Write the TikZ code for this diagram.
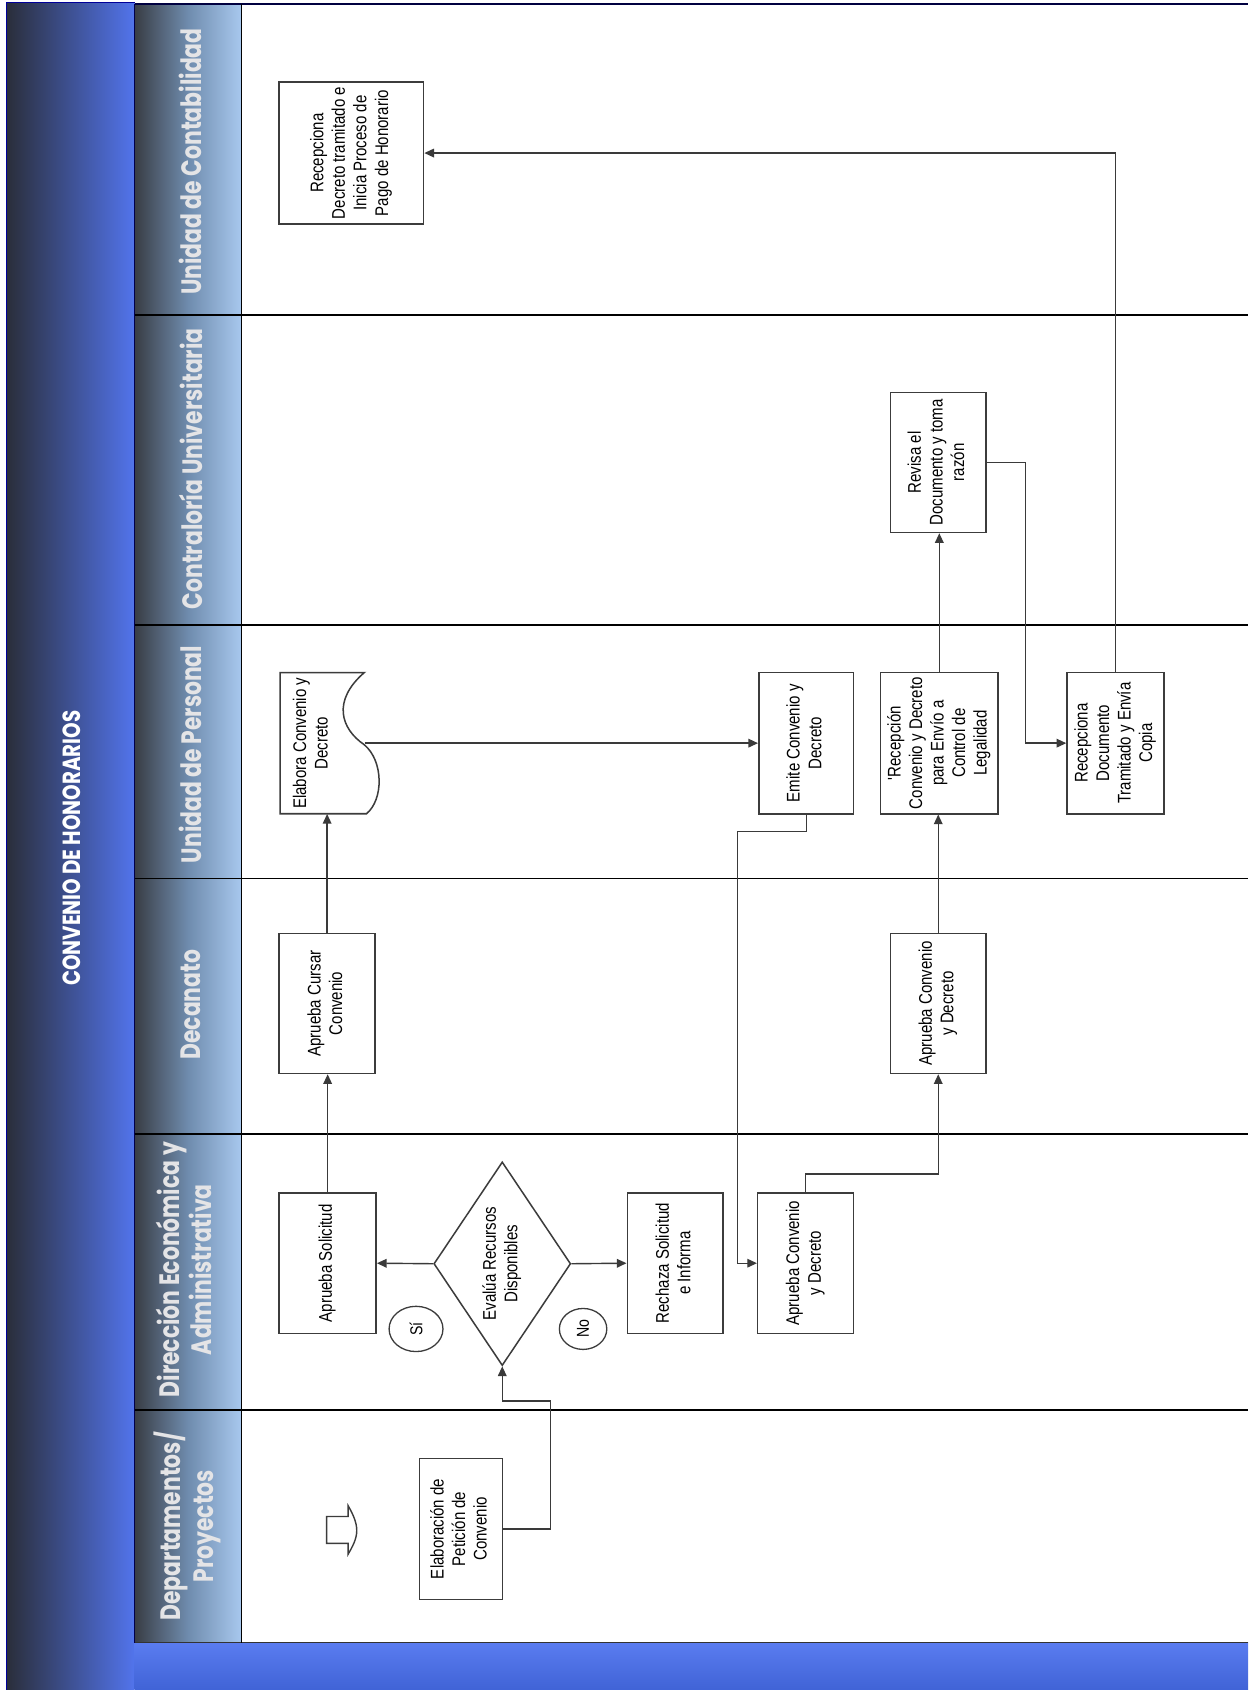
\documentclass[tikz,border=0pt]{standalone}
\usepackage{fontspec}
\usetikzlibrary{arrows.meta,shapes.geometric,calc}
\setmainfont{Liberation Sans}
\newfontfamily\boxfont[FakeStretch=0.82]{Liberation Sans}
\newfontfamily\hdrfont[FakeStretch=0.78]{Poppins}
\newfontfamily\titlefont[FakeStretch=0.80]{Poppins}
\definecolor{bandL}{HTML}{2A2E3A}
\definecolor{bandR}{HTML}{5274EC}
\definecolor{hdrL}{HTML}{393D45}
\definecolor{hdrM}{HTML}{6F8CAE}
\definecolor{hdrR}{HTML}{A8C8EE}
\definecolor{barT}{HTML}{5A7CF0}
\definecolor{barB}{HTML}{4063D6}
\definecolor{hdrtext}{HTML}{E4E4E6}
\definecolor{boxline}{HTML}{3C3C3C}
\definecolor{connc}{HTML}{3A3A3A}
\newcommand{\rtext}[1]{\rotatebox{90}{\begin{tabular}{@{}c@{}}#1\end{tabular}}}
\tikzset{
  proc/.style={draw=boxline, line width=1.4pt, fill=white, inner sep=0pt,
    font=\boxfont\fontsize{17}{20}\selectfont},
  conn/.style={draw=connc, line width=1.3pt, -{Triangle[length=9pt,width=8pt]}},
  laneline/.style={draw=black, line width=1.5pt},
  hdr/.style={text=hdrtext, inner sep=0pt, font=\hdrfont\bfseries\fontsize{26}{30}\selectfont},
  smallov/.style={draw=boxline, line width=1.2pt, ellipse, inner sep=0pt,
    font=\boxfont\fontsize{16}{18}\selectfont}
}
\begin{document}
\begin{tikzpicture}[x=1pt,y=-1pt]
\useasboundingbox (0,0) rectangle (1158,1568);
\fill[white] (0,0) rectangle (1158,1568);
% left title band
\shade[left color=bandL, right color=bandR] (6,2) rectangle (125,1568);
\draw[draw=blue!60!black, line width=1pt] (6,1568) -- (6,2) -- (125,2);
\node[text=white, inner sep=0pt, font=\titlefont\bfseries\fontsize{23}{28}\selectfont] (title) at (67,787) {\rotatebox{90}{CONVENIO DE HONORARIOS}};
% header column
\shade[left color=hdrL, right color=hdrR, middle color=hdrM] (125,4) rectangle (224,1524);
% bottom bar
\shade[top color=barT, bottom color=barB] (125,1524) rectangle (1158,1568);
\draw[draw=black!80, line width=1pt] (125,1524) -- (1158,1524);
% borders and lane lines
\draw[draw=black!75!blue, line width=2pt] (125,4) -- (1158,4);
\draw[laneline] (224,4) -- (224,1524);
\draw[draw=black!70!blue, line width=1.2pt] (125,4) -- (125,1524);
\foreach \yy in {292,580,815,1052,1308} { \draw[laneline] (125,\yy) -- (1158,\yy); }
% lane headers
\node[hdr] (hcont) at (177,150) {\rotatebox{90}{Unidad de Contabilidad}};
\node[hdr] (hcontra) at (177,435) {\rotatebox{90}{Contraloría Universitaria}};
\node[hdr] (hpers) at (177,700) {\rotatebox{90}{Unidad de Personal}};
\node[hdr] (hdecan) at (177,932) {\rotatebox{90}{Decanato}};
\node[hdr] (hdir) at (175,1178) {\rotatebox{90}{\begin{tabular}{@{}c@{}}Dirección Económica y\\Administrativa\end{tabular}}};
\node[hdr] (hdep) at (175,1416) {\rotatebox{90}{\begin{tabular}{@{}c@{}}Departamentos/\\Proyectos\end{tabular}}};
% process nodes
\node[proc, minimum width=134pt, minimum height=132pt] (recdec) at (326,142)
  {\rtext{Recepciona\\Decreto tramitado e\\Inicia Proceso de\\Pago de Honorario}};
\node[proc, minimum width=89pt, minimum height=130pt] (revisa) at (870.5,429)
  {\rtext{Revisa el\\Documento y toma\\razón}};
% document shape
\draw[draw=boxline, line width=1.4pt, fill=white] (260,624) -- (338,624)
  .. controls (308,650) and (316,676) .. (338,691)
  .. controls (356,706) and (356,742) .. (340,755) -- (260,755) -- cycle;
\node[inner sep=0pt, minimum width=78pt, minimum height=131pt,
  font=\boxfont\fontsize{17}{20}\selectfont] (elabora) at (299,689.5)
  {\rtext{Elabora Convenio y\\Decreto}\hspace*{18pt}};
\node[proc, minimum width=88pt, minimum height=131pt] (emite) at (748,689.5)
  {\rtext{Emite Convenio y\\Decreto}};
\node[proc, minimum width=109pt, minimum height=131pt] (recep) at (871.5,689.5)
  {\rtext{'Recepción\\Convenio y Decreto\\para Envío a\\Control de\\Legalidad}};
\node[proc, minimum width=90pt, minimum height=131pt] (recdoc) at (1035,689.5)
  {\rtext{Recepciona\\Documento\\Tramitado y Envía\\Copia}};
\node[proc, minimum width=89pt, minimum height=130pt] (cursar) at (303.5,931)
  {\rtext{Aprueba Cursar\\Convenio}};
\node[proc, minimum width=89pt, minimum height=130pt] (apdec) at (870.5,931)
  {\rtext{Aprueba Convenio\\y Decreto}};
\node[proc, minimum width=90pt, minimum height=130pt] (apsol) at (304,1172)
  {\rtext{Aprueba Solicitud}};
\node[proc, diamond, shape aspect=0.67, minimum width=127pt, minimum height=189pt] (evalua) at (466,1172.5)
  {\rtext{Evalúa Recursos\\Disponibles}};
\node[proc, minimum width=89pt, minimum height=130pt] (rechaza) at (626.5,1172)
  {\rtext{Rechaza Solicitud\\e Informa}};
\node[proc, minimum width=89pt, minimum height=130pt] (apdir) at (747.5,1172)
  {\rtext{Aprueba Convenio\\y Decreto}};
\node[proc, minimum width=77pt, minimum height=131pt] (elabpet) at (427.5,1418.5)
  {\rtext{Elaboración de\\Petición de\\Convenio}};
\node[smallov, minimum width=50pt, minimum height=42pt] (si) at (386,1233) {\rotatebox{90}{Sí}};
\node[smallov, minimum width=44pt, minimum height=38pt] (no) at (541,1233) {\rotatebox{90}{No}};
% start block arrow
\draw[draw=boxline, line width=1.3pt, fill=white] (303,1407) -- (323,1407) -- (323,1397)
  .. controls (327,1404) and (331,1412) .. (331,1420)
  .. controls (331,1428) and (327,1435) .. (323,1442) -- (323,1432) -- (303,1432) -- cycle;
% connectors
\draw[conn] (elabpet.east) -- ++(44,0) -- ++(0,-118.5) -| (evalua.south);
\draw[conn] (evalua.west) -- (apsol.east);
\draw[conn] (evalua.east) -- (rechaza.west);
\draw[conn] (apsol.north) -- (apsol.north |- cursar.south);
\draw[conn] (cursar.north) -- (cursar.north |- elabora.south);
\draw[conn] (elabora.east) -- (emite.west);
\draw[conn] (emite.south) -- ++(0,16) -| ($(apdir.west)+(-18,0)$) -- (apdir.west);
\draw[conn] (apdir.north) -- ++(0,-17) -| (apdec.south);
\draw[conn] (apdec.north) -- (apdec.north |- recep.south);
\draw[conn] (recep.north) -- (recep.north |- revisa.south);
\draw[conn] (revisa.east) -- ++(36,0) |- (recdoc.west);
\draw[conn] (recdoc.north) |- (recdec.east);
\end{tikzpicture}
\end{document}
